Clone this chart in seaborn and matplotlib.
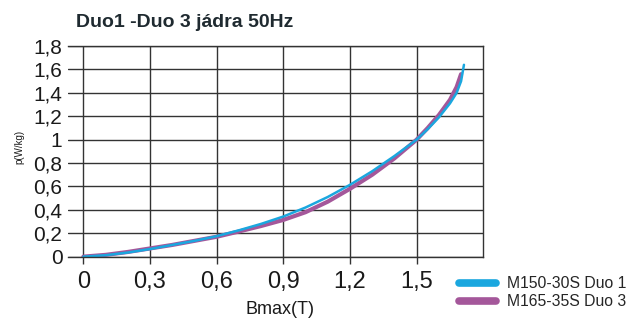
import numpy as np
import pandas as pd
import matplotlib
matplotlib.use("Agg")
import matplotlib.pyplot as plt
from matplotlib.lines import Line2D
import seaborn as sns

# values
b_duo1 = [0, 0.1, 0.2, 0.3, 0.4, 0.5, 0.6, 0.7, 0.8, 0.9, 1.0, 1.1, 1.2, 1.3, 1.4, 1.5, 1.55, 1.6, 1.65, 1.68, 1.7, 1.713]
p_duo1 = [0, 0.012, 0.035, 0.065, 0.1, 0.135, 0.175, 0.225, 0.28, 0.343, 0.42, 0.51, 0.614, 0.73, 0.86, 1.0, 1.09, 1.19, 1.31, 1.40, 1.50, 1.64]
b_duo3 = [0, 0.1, 0.2, 0.3, 0.4, 0.5, 0.6, 0.7, 0.8, 0.9, 1.0, 1.1, 1.2, 1.3, 1.4, 1.5, 1.55, 1.6, 1.65, 1.68, 1.7]
p_duo3 = [0, 0.015, 0.04, 0.07, 0.1, 0.135, 0.17, 0.215, 0.262, 0.314, 0.38, 0.47, 0.58, 0.70, 0.84, 1.0, 1.10, 1.21, 1.34, 1.45, 1.56]

series = ["M150-30S Duo 1", "M165-35S Duo 3"]
colors = ["#1aa7df", "#a4579a"]
x_ticks = [0, 0.3, 0.6, 0.9, 1.2, 1.5]
x_labels = ["0", "0,3", "0,6", "0,9", "1,2", "1,5"]
y_ticks = [0, 0.2, 0.4, 0.6, 0.8, 1.0, 1.2, 1.4, 1.6, 1.8]
y_labels = ["0", "0,2", "0,4", "0,6", "0,8", "1", "1,2", "1,4", "1,6", "1,8"]

df1 = pd.DataFrame({"B": b_duo1, "p": p_duo1, "serie": series[0]})
df3 = pd.DataFrame({"B": b_duo3, "p": p_duo3, "serie": series[1]})

sns.set_style("white")
plt.rcParams["font.family"] = ["Liberation Sans", "DejaVu Sans"]

fig = plt.figure(figsize=(6.38, 3.2), dpi=100)
ax = fig.add_axes([0.1066, 0.198, 0.6509, 0.658])

sns.lineplot(data=df3, x="B", y="p", color=colors[1], linewidth=3.0, ax=ax, legend=False)
sns.lineplot(data=df1, x="B", y="p", color=colors[0], linewidth=1.8, ax=ax, legend=False)

ax.set_xlim(-0.069, 1.8)
ax.set_ylim(0, 1.8)
ax.set_xticks(x_ticks)
ax.set_xticklabels(x_labels)
ax.set_yticks(y_ticks)
ax.set_yticklabels(y_labels)

# grid: horizontal across whole axes, vertical at the ticks
for y in y_ticks:
    ax.axhline(y, color="#333333", lw=1.0, zorder=0.5)
for x in x_ticks:
    ax.axvline(x, color="#333333", lw=1.0, zorder=0.5)

ax.spines["left"].set_visible(False)
for s in ["top", "right", "bottom"]:
    ax.spines[s].set_color("#333333")
    ax.spines[s].set_linewidth(1.0)

ax.tick_params(axis="x", direction="out", length=5, width=1.0, color="#333333",
               labelsize=17, pad=5, bottom=True)
ax.tick_params(axis="y", length=0, labelsize=15, pad=4)
for lab in ax.get_xticklabels() + ax.get_yticklabels():
    lab.set_color("#1a1a1a")

ax.set_xlabel("Bmax(T)", fontsize=13, color="#1a1a1a", va="center")
ax.xaxis.set_label_coords(0.51, -0.25)
ax.set_ylabel("p(W/kg)", fontsize=7, color="#1a1a1a")
ax.yaxis.set_label_coords(-0.105, 0.52)

fig.text(0.29, 0.93, "Duo1 -Duo 3 jádra 50Hz", fontsize=14, fontweight="bold",
         color="#1f2a30", ha="center", va="center")

handles = [Line2D([0], [0], color=c, lw=5.5) for c in colors]
fig.legend(handles, series, loc="center left", bbox_to_anchor=(0.697, 0.085),
           frameon=False, fontsize=11.3, handlelength=2.4, handletextpad=0.7,
           labelspacing=0.2)

fig.savefig("out.png", dpi=100)
